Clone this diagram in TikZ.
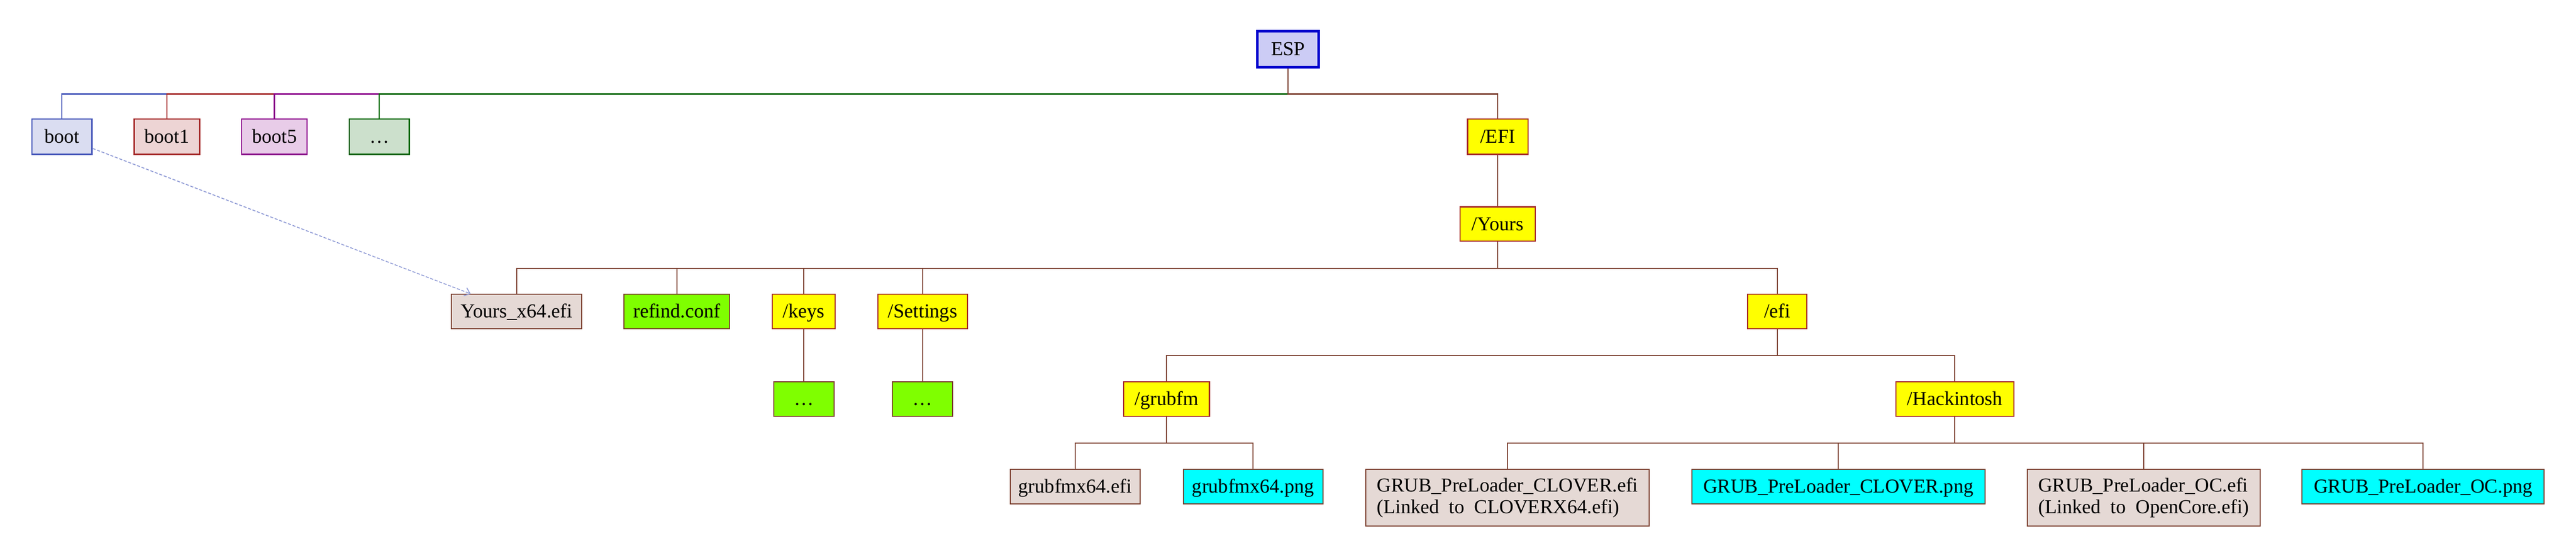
\documentclass[tikz,border=0pt]{standalone}
\usepackage{fontspec}
\setmainfont{Liberation Serif}
\usetikzlibrary{calc,arrows.meta}
\definecolor{espB}{HTML}{0000CD}
\definecolor{bootB}{HTML}{4556B9}
\definecolor{xbrown}{HTML}{A52A2A}
\definecolor{xmag}{HTML}{8B008B}
\definecolor{xgreen}{HTML}{006400}
\definecolor{lineB}{HTML}{7B3F2F}
\definecolor{xyellow}{HTML}{FFFF00}
\definecolor{xchart}{HTML}{7FFF00}
\definecolor{xcyan}{HTML}{00FFFF}
\tikzset{
  box/.style 2 args={draw, rectangle, inner sep=0pt, minimum width=#1cm, minimum height=#2cm,
    font=\fontsize{14.5}{15.6}\selectfont, text=black, text height=12.2pt, text depth=2.9pt},
  twoline/.style={text height=, text depth=, align=left},
  espbox/.style={draw=espB, fill=espB!20, line width=1.7pt},
  topbox/.style={line width=0.95pt},
  dirbox/.style={draw=xbrown, fill=xyellow, line width=0.8pt},
  filebox/.style={draw=lineB, fill=lineB!20, line width=0.75pt},
  confbox/.style={draw=lineB, fill=xchart, line width=0.75pt},
  pngbox/.style={draw=lineB, fill=xcyan, line width=0.75pt},
  tree/.style={to path={(\tikztostart.south) -- ++(0,-#1) -| (\tikztotarget.north)}},
  tree/.default=0.68,
  topline/.style={line width=0.95pt},
  lowline/.style={draw=lineB, line width=0.75pt},
  linkarrow/.style={draw=bootB!60, line width=0.65pt, dash pattern=on 2.3pt off 1.2pt,
    -{Straight Barb[length=0.13cm, width=0.22cm]}}
}
\begin{document}
\begin{tikzpicture}
\useasboundingbox (0,0) rectangle (66.56,-14.41);
% nodes
\node[box={1.58}{0.93}, espbox] (esp) at (33.28,-1.27) {ESP};
\node[box={1.55}{0.91}, topbox, draw=bootB, fill=bootB!20] (boot) at (1.60,-3.53) {boot};
\node[box={1.69}{0.91}, topbox, draw=xbrown, fill=xbrown!20] (boota) at (4.31,-3.53) {boot1};
\node[box={1.69}{0.91}, topbox, draw=xmag, fill=xmag!20] (bootb) at (7.09,-3.53) {boot5};
\node[box={1.55}{0.91}, topbox, draw=xgreen, fill=xgreen!20] (dotsa) at (9.80,-3.53) {\dots};
\node[box={1.56}{0.91}, dirbox, line width=0.9pt] (EFI) at (38.70,-3.53) {/EFI};
\node[box={1.95}{0.89}, dirbox] (yours) at (38.70,-5.79) {/Yours};
\node[box={3.37}{0.89}, filebox] (yx) at (13.35,-8.05) {Yours\_x64.efi};
\node[box={2.73}{0.89}, confbox] (refind) at (17.49,-8.05) {refind.conf};
\node[box={1.62}{0.89}, dirbox] (keys) at (20.77,-8.05) {/keys};
\node[box={2.32}{0.89}, dirbox] (settings) at (23.84,-8.05) {/Settings};
\node[box={1.54}{0.89}, dirbox] (efi) at (45.92,-8.05) {/efi};
\node[box={1.56}{0.89}, confbox] (dotsb) at (20.77,-10.31) {\dots};
\node[box={1.56}{0.89}, confbox] (dotsc) at (23.84,-10.31) {\dots};
\node[box={2.22}{0.89}, dirbox] (grubfm) at (30.14,-10.31) {/grubfm};
\node[box={3.05}{0.89}, dirbox] (hack) at (50.51,-10.31) {/Hackintosh};
\node[box={3.36}{0.89}, filebox] (gefi) at (27.78,-12.57) {grubfmx64.efi};
\node[box={3.61}{0.89}, pngbox] (gpng) at (32.38,-12.57) {grubfmx64.png};
\node[box={7.32}{1.47}, filebox, twoline] (clefi) at (38.95,-12.86) {GRUB\_PreLoader\_CLOVER.efi\\(Linked~ to~ CLOVERX64.efi)};
\node[box={7.57}{0.89}, pngbox] (clpng) at (47.50,-12.57) {GRUB\_PreLoader\_CLOVER.png};
\node[box={6.02}{1.47}, filebox, twoline] (ocefi) at (55.39,-12.86) {GRUB\_PreLoader\_OC.efi\\(Linked~ to~ OpenCore.efi)};
\node[box={6.26}{0.89}, pngbox] (ocpng) at (62.61,-12.57) {GRUB\_PreLoader\_OC.png};
% top connectors
\draw[topline, bootB] (esp) to[tree=0.665] (boot);
\draw[topline, xbrown] (esp) to[tree=0.665] (boota);
\draw[topline, xmag] (esp) to[tree=0.665] (bootb);
\draw[topline, xgreen] (esp) to[tree=0.665] (dotsa);
\draw[topline, lineB] (esp) to[tree=0.665] (EFI);
% lower connectors
\draw[lowline] (EFI.south) -- (yours.north);
\draw[lowline] (yours) to[tree] (yx);
\draw[lowline] (yours) to[tree] (refind);
\draw[lowline] (yours) to[tree] (keys);
\draw[lowline] (yours) to[tree] (settings);
\draw[lowline] (yours) to[tree] (efi);
\draw[lowline] (keys.south) -- (dotsb.north);
\draw[lowline] (settings.south) -- (dotsc.north);
\draw[lowline] (efi) to[tree] (grubfm);
\draw[lowline] (efi) to[tree] (hack);
\draw[lowline] (grubfm) to[tree] (gefi);
\draw[lowline] (grubfm) to[tree] (gpng);
\draw[lowline] (hack) to[tree] (clefi);
\draw[lowline] (hack) to[tree] (clpng);
\draw[lowline] (hack) to[tree] (ocefi);
\draw[lowline] (hack) to[tree] (ocpng);
% link
\draw[linkarrow] (boot) -- (yx);
\end{tikzpicture}
\end{document}
